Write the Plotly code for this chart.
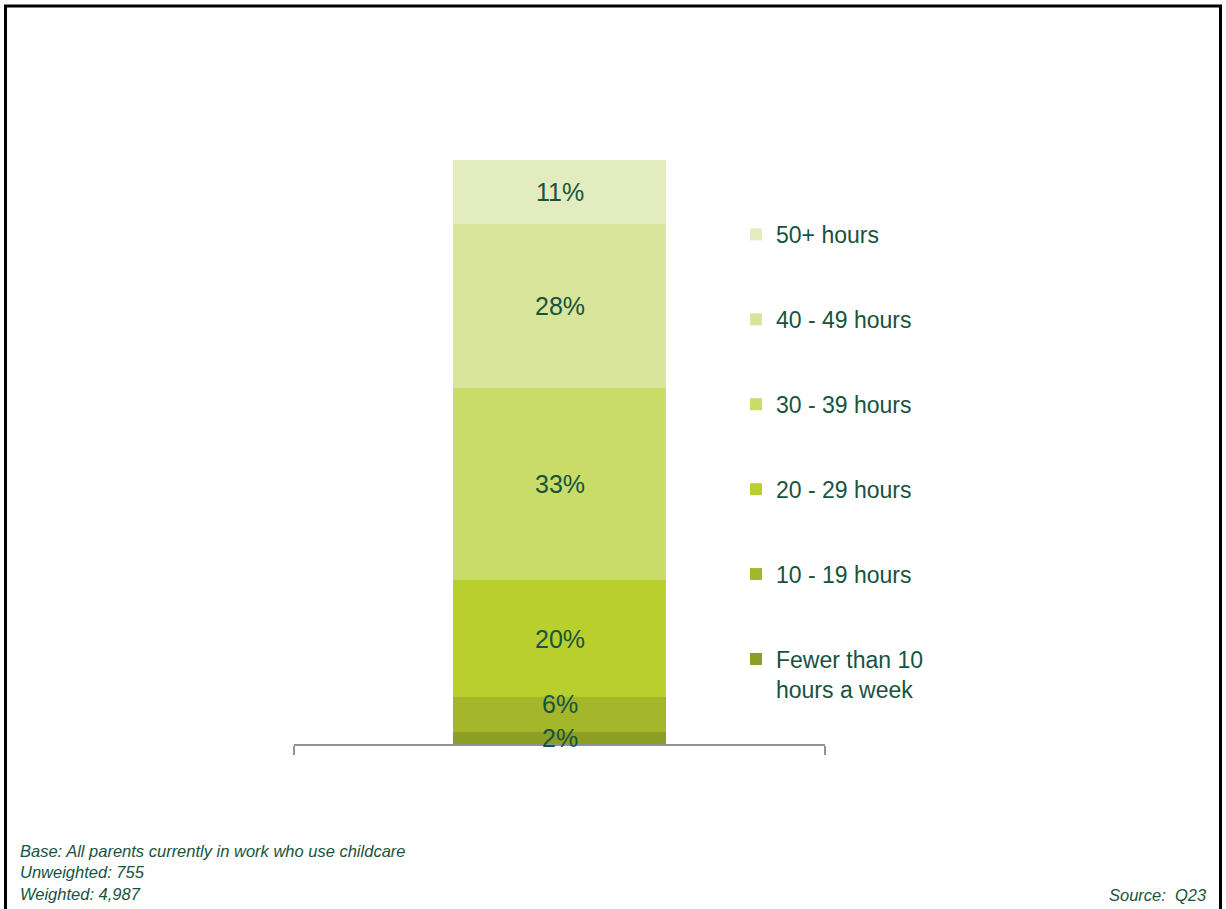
import plotly.graph_objects as go

# Share of working parents by weekly hours worked (stacked, bottom to top)
categories = ["Fewer than 10<br>hours a week", "10 - 19 hours", "20 - 29 hours",
              "30 - 39 hours", "40 - 49 hours", "50+ hours"]
values = [2, 6, 20, 33, 28, 11]
colors = ["#8c9e24", "#a4b72a", "#b9cf2d", "#c9dc68", "#d9e59b", "#e3ecbf"]
label_shift = [0, 11, 0, 0, 0, 0]  # nudge small-segment labels apart
group = ["All"]

TEXT = "#17533f"
FONT = "Arial, Liberation Sans, sans-serif"
W, H = 1226, 909
L, R, T, B = 294, 401, 160, 165


def px(x):
    return (x - L) / (W - L - R)


def py(y):
    return (H - B - y) / (H - T - B)


fig = go.Figure()
n = len(categories)
for i, (name, v, c) in enumerate(zip(categories, values, colors)):
    fig.add_trace(go.Bar(
        x=group, y=[v], name=name, marker=dict(color=c, line=dict(width=0)),
        width=0.4, legendgroup=f"g{i}", legendrank=(n - i) * 100, hoverinfo="skip",
    ))

# Value labels at the middle of each stacked segment
annotations = []
base = 0
for v, s in zip(values, label_shift):
    annotations.append(dict(
        x=group[0], y=base + v / 2, xref="x", yref="y", text=f"{v}%",
        showarrow=False, yshift=s, font=dict(size=25, color=TEXT, family=FONT),
    ))
    base += v

annotations += [
    dict(x=px(18), y=py(872), xref="paper", yref="paper", xanchor="left", yanchor="middle",
         align="left", showarrow=False,
         text="<i>Base: All parents currently in work who use childcare<br>Unweighted: 755<br>Weighted: 4,987</i>",
         font=dict(size=16.5, color=TEXT, family=FONT)),
    dict(x=px(1209), y=py(895), xref="paper", yref="paper", xanchor="right", yanchor="middle",
         showarrow=False, text="<i>Source:\u00a0 Q23</i>",
         font=dict(size=16.5, color=TEXT, family=FONT)),
]

fig.update_layout(
    width=W, height=H,
    margin=dict(l=L, r=R, t=T, b=B),
    paper_bgcolor="white", plot_bgcolor="white",
    barmode="stack", bargap=0.6,
    font=dict(family=FONT, color=TEXT),
    showlegend=True,
    legend=dict(
        x=px(736), y=py(213), xanchor="left", yanchor="top",
        traceorder="grouped", tracegroupgap=52, valign="top",
        font=dict(size=23, color=TEXT, family=FONT), bgcolor="rgba(0,0,0,0)",
    ),
    xaxis=dict(
        type="category", range=[-0.5, 0.5], showline=True, linecolor="#8c9494", linewidth=2,
        ticks="outside", tickson="boundaries", ticklen=9, tickcolor="#8c9494", tickwidth=1.5,
        showticklabels=False, showgrid=False, zeroline=False, fixedrange=True,
    ),
    yaxis=dict(range=[0, 100], visible=False, showgrid=False, zeroline=False, fixedrange=True),
    annotations=annotations,
    shapes=[dict(
        type="rect", xref="paper", yref="paper",
        x0=px(5.5), x1=px(1220.5), y0=py(6), y1=py(925),
        line=dict(color="black", width=3), fillcolor="rgba(0,0,0,0)", layer="above",
    )],
)

fig.write_html("out.html")
